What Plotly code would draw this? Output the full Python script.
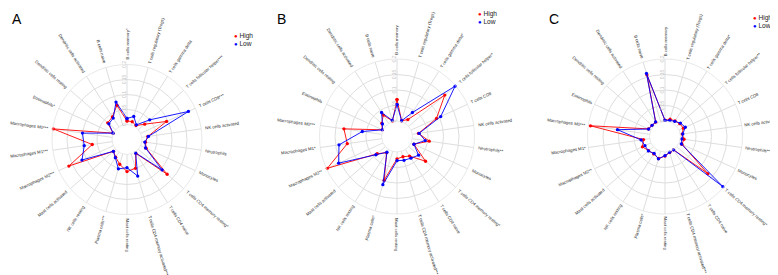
import math
import plotly.graph_objects as go

W, H = 778, 275

cells = ["B cells memory", "T cells regulatory (Tregs)", "T cells gamma delta",
         "T cells follicular helper", "T cells CD8", "NK cells activated", "Neutrophils",
         "Monocytes", "T cells CD4 memory resting", "T cells CD4 naive",
         "T cells CD4 memory activated", "Mast cells resting", "Plasma cells",
         "NK cells resting", "Mast cells activated", "Macrophages M2", "Macrophages M1",
         "Macrophages M0", "Eosinophils", "Dendritic cells resting",
         "Dendritic cells activated", "B cells naive"]

stars_A = ["*", "", "", "***", "***", "", "", "", "*", "", "***", "", "***", "", "",
           "***", "***", "***", "*", "", "", ""]
stars_B = ["", "", "*", "*", "", "", "**", "", "*", "", "***", "", "*", "", "",
           "**", "*", "***", "", "", "", ""]
stars_C = ["", "", "*", "**", "", "", "**", "", "*", "", "***", "", "*", "", "",
           "**", "*", "***", "", "", "", ""]

high_A = [0.012, 0.012, 0.005, 0.028, 0.095, 0.02, 0.012, 0.02, 0.127, 0.005, 0.05,
          0.057, 0.036, 0.02, 0.01, 0.163, 0.067, 0.198, 0.001, 0.035, 0.04, 0.069]
low_A = [0.02, 0.03, 0.008, 0.05, 0.175, 0.022, 0.01, 0.018, 0.105, 0.003, 0.077,
         0.044, 0.052, 0.022, 0.01, 0.115, 0.094, 0.1, 0.001, 0.03, 0.035, 0.08]

high_B = [0.069, 0.003, 0.015, 0.154, 0.09, 0.02, 0.055, 0.01, 0.072, 0.025, 0.018,
          0.022, 0.097, 0.012, 0.035, 0.197, 0.112, 0.123, 0.002, 0.015, 0.032, 0.002]
low_B = [0.053, 0.003, 0.042, 0.198, 0.105, 0.022, 0.042, 0.01, 0.042, 0.033, 0.03,
         0.028, 0.112, 0.01, 0.04, 0.157, 0.139, 0.063, 0.002, 0.012, 0.042, 0.004]

high_C = [0.002, 0.008, 0.01, 0.013, 0.015, 0.006, 0.012, 0.01, 0.133, 0.001, 0.004,
          0.013, 0.024, 0.017, 0.02, 0.03, 0.02, 0.193, 0.009, 0.005, 0.005, 0.157]
low_C = [0.002, 0.004, 0.008, 0.016, 0.022, 0.008, 0.005, 0.008, 0.197, 0.001, 0.003,
         0.012, 0.025, 0.015, 0.021, 0.021, 0.028, 0.105, 0.008, 0.005, 0.006, 0.162]

radial_ticks = [0, 0.05, 0.1, 0.15, 0.2]
radial_ticktext = ["0", "0.05", "0.1", "0.15", "0.2"]

panels = [
    dict(letter="A", stars=stars_A, high=high_A, low=low_A, cx=119, cy=131.5, R=75,
         gap=4, letter_xy=(2, 11), leg_xy=(226, 28.3)),
    dict(letter="B", stars=stars_B, high=high_B, low=low_B, cx=389, cy=128.5, R=77.5,
         gap=4, letter_xy=(267, 11), leg_xy=(470.5, 5.8)),
    dict(letter="C", stars=stars_C, high=high_C, low=low_C, cx=657, cy=128.5, R=77.5,
         gap=2.5, letter_xy=(539, 11), leg_xy=(745.5, 9.8)),
]

RED = "#ff0000"
BLUE = "#0000ff"
GRID = "#dedede"
FONT = "Liberation Sans, Arial, sans-serif"

# Arial-like glyph widths (per 1000 em) for label length estimation
CW = {' ': 278, 'a': 556, 'b': 556, 'c': 500, 'd': 556, 'e': 556, 'f': 278, 'g': 556,
      'h': 556, 'i': 222, 'j': 222, 'k': 500, 'l': 222, 'm': 833, 'n': 556, 'o': 556,
      'p': 556, 'q': 556, 'r': 333, 's': 500, 't': 278, 'u': 556, 'v': 500, 'w': 722,
      'x': 500, 'y': 500, 'z': 500, 'A': 667, 'B': 667, 'C': 722, 'D': 722, 'E': 667,
      'F': 611, 'G': 778, 'H': 722, 'I': 278, 'K': 667, 'L': 556, 'M': 833, 'N': 722,
      'O': 778, 'P': 667, 'R': 722, 'S': 667, 'T': 611, '*': 389, '(': 333, ')': 333}


def text_width(s, size):
    return sum(CW.get(ch, 556) for ch in s) / 1000.0 * size


fig = go.Figure()
annotations = []
LABEL_SIZE = 4.3
n = len(cells)

for i, p in enumerate(panels):
    sub = "polar" if i == 0 else "polar%d" % (i + 1)
    theta = cells + [cells[0]]
    for name, vals, col in (("High", p["high"], RED), ("Low", p["low"], BLUE)):
        fig.add_trace(go.Scatterpolar(
            r=vals + [vals[0]], theta=theta, mode="lines+markers", name=name,
            line=dict(color=col, width=0.9), marker=dict(color=col, size=3.3),
            subplot=sub, showlegend=False))
    cx, cy, R = p["cx"], p["cy"], p["R"]
    polar = dict(
        domain=dict(x=[(cx - R) / W, (cx + R) / W],
                    y=[1 - (cy + R) / H, 1 - (cy - R) / H]),
        hole=0.2,
        bgcolor="rgba(0,0,0,0)",
        radialaxis=dict(range=[0, 0.2], tickvals=radial_ticks, ticktext=radial_ticktext,
                        angle=90, tickangle=0, showline=False, ticks="",
                        side="counterclockwise",
                        gridcolor=GRID, gridwidth=0.7,
                        tickfont=dict(size=5, color="#c4c4c4", family=FONT)),
        angularaxis=dict(direction="clockwise", rotation=90, type="category",
                         categoryarray=cells, showticklabels=False, ticks="",
                         gridcolor=GRID, gridwidth=0.7, linecolor=GRID, linewidth=0.7,
                         showline=True),
    )
    fig.update_layout(**{sub: polar})

    # radial category labels
    r0 = R + p["gap"]
    for k, c in enumerate(cells):
        lab = c + p["stars"][k]
        th = 360.0 * k / n
        L = text_width(lab, LABEL_SIZE) + 1
        rc = r0 + L / 2
        x = cx + rc * math.sin(math.radians(th))
        y = cy - rc * math.cos(math.radians(th))
        ang = th - 90 if th <= 180 + 1e-6 else th - 270
        annotations.append(dict(
            x=x / W, y=1 - y / H, xref="paper", yref="paper", text=lab,
            showarrow=False, textangle=ang, xanchor="center", yanchor="middle",
            font=dict(size=LABEL_SIZE, color="#2a2a2a", family=FONT), borderpad=0))

    # panel letter
    lx, ly = p["letter_xy"]
    annotations.append(dict(x=lx / W, y=1 - ly / H, xref="paper", yref="paper",
                            text=p["letter"], showarrow=False, xanchor="left",
                            yanchor="middle", font=dict(size=14, color="black", family=FONT)))
    # legend
    gx, gy = p["leg_xy"]
    for j, (name, col) in enumerate((("High", RED), ("Low", BLUE))):
        annotations.append(dict(
            x=(gx - 1.5) / W, y=1 - (gy + 7.5 * j) / H, xref="paper", yref="paper",
            text="<span style='color:%s;font-size:6px'>\u25cf</span> %s" % (col, name),
            showarrow=False, xanchor="left", yanchor="middle", borderpad=0,
            font=dict(size=6.6, color="#222", family=FONT)))

fig.update_layout(width=W, height=H, margin=dict(l=0, r=0, t=0, b=0),
                  paper_bgcolor="white", plot_bgcolor="white",
                  annotations=annotations, showlegend=False)

fig.write_html("out.html")
